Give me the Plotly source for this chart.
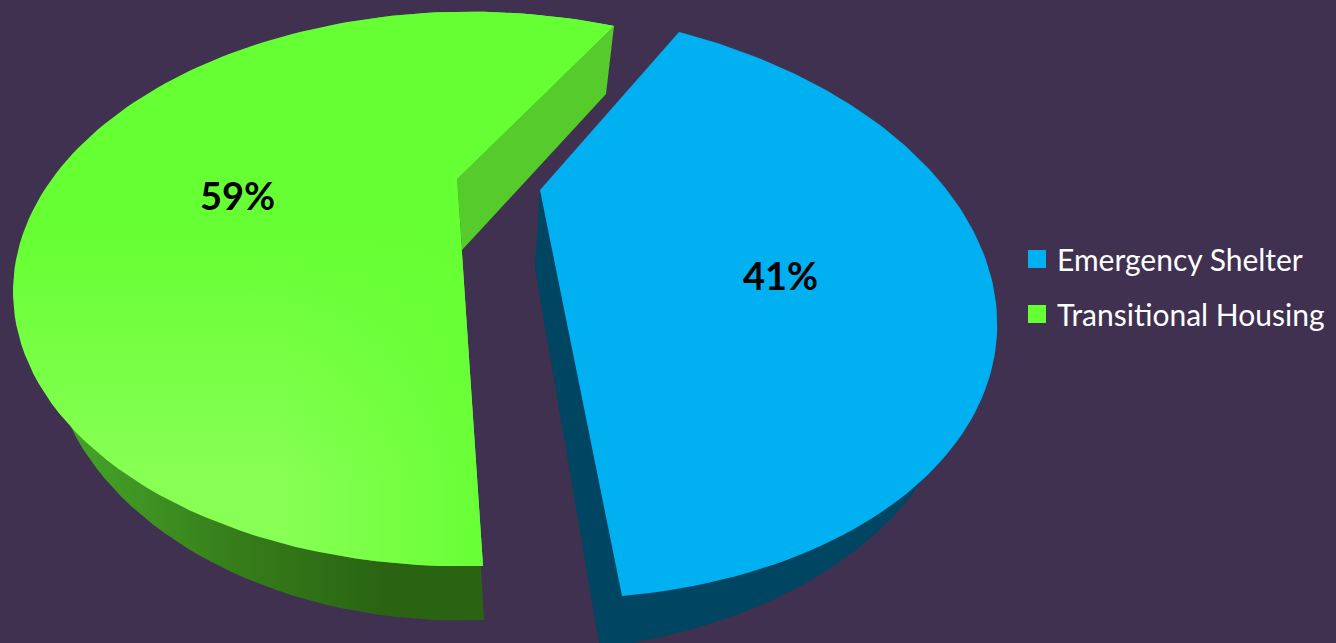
import numpy as np
import plotly.graph_objects as go

categories = ["Emergency Shelter", "Transitional Housing"]
values = [41, 59]
top_colors = ["#00B0F0", "#66FF33"]
BG = "#403151"

# Calibration of the tilted "3D" view: slice apex, arc start, arc middle, arc end (pixels)
view_top = {
    "Emergency Shelter": [(540, 190), (679, 32), (984.6, 256.2), (622, 596)],
    "Transitional Housing": [(457, 179), (614, 26), (95, 132), (483, 566)],
}
view_bottom = {
    "Emergency Shelter": [(535, 267), (672, 110), (947.5, 318.1), (600, 648)],
    "Transitional Housing": [(462, 250), (606, 94), (117, 186), (484, 620)],
}
label_pos = {"Emergency Shelter": (780, 275), "Transitional Housing": (237, 195)}


def homography(src, dst):
    A, b = [], []
    for (u, v), (x, y) in zip(src, dst):
        A.append([u, v, 1, 0, 0, 0, -u * x, -v * x]); b.append(x)
        A.append([0, 0, 0, u, v, 1, -u * y, -v * y]); b.append(y)
    return np.append(np.linalg.solve(np.array(A, float), np.array(b, float)), 1).reshape(3, 3)


def arc(value, anchors, n=120):
    span = 2 * np.pi * value / 100
    src = [(0, 0)] + [(np.cos(a), np.sin(a)) for a in (0, span / 2, span)]
    H = homography(src, anchors)
    t = np.linspace(0, span, n)
    p = H @ np.vstack([np.cos(t), np.sin(t), np.ones_like(t)])
    return p[0] / p[2], p[1] / p[2]


def poly(xs, ys, **kw):
    return go.Scatter(x=xs, y=ys, mode="lines", fill="toself", line=dict(width=0),
                      hoverinfo="skip", showlegend=False, **kw)


fig = go.Figure()

# Blue slice
name = categories[0]
xt, yt = arc(values[0], view_top[name])
xb, yb = arc(values[0], view_bottom[name])
at, ab = view_top[name][0], view_bottom[name][0]
dark_blue = "#004561"
fig.add_trace(poly([ab[0], *xb, ab[0]], [ab[1], *yb, ab[1]], fillcolor=dark_blue))
fig.add_trace(poly([at[0], xt[-1], xb[-1], ab[0]], [at[1], yt[-1], yb[-1], ab[1]], fillcolor=dark_blue))
fig.add_trace(poly([at[0], *xt, at[0]], [at[1], *yt, at[1]], fillcolor=top_colors[0]))

# Green slice
name = categories[1]
xt, yt = arc(values[1], view_top[name])
xb, yb = arc(values[1], view_bottom[name])
at, ab = view_top[name][0], view_bottom[name][0]
wall_grad = dict(type="horizontal", start=90, stop=480,
                 colorscale=[[0, "#43A027"], [0.35, "#377F1B"], [0.75, "#2A6412"], [1, "#2A6412"]])
fig.add_trace(poly([ab[0], *xb, ab[0]], [ab[1], *yb, ab[1]], fillgradient=wall_grad))
fig.add_trace(poly([at[0], xt[0], xb[0], ab[0]], [at[1], yt[0], yb[0], ab[1]], fillcolor="#55CC2B"))
fx, fy = [at[0], *xt, at[0]], [at[1], *yt, at[1]]
fig.add_trace(poly(fx, fy, fillgradient=dict(type="vertical", start=230, stop=480,
                   colorscale=[[0, "#66FF33"], [1, "#88FF55"]])))
fig.add_trace(poly(fx, fy, fillgradient=dict(type="horizontal", start=280, stop=500,
                   colorscale=[[0, "rgba(102,255,51,0)"], [1, "rgba(102,255,51,1)"]])))

# Legend entries
for c, col in zip(categories, top_colors):
    fig.add_trace(go.Scatter(x=[None], y=[None], mode="markers", name=c, legendgroup=c,
                             marker=dict(symbol="square", size=16, color=col, line=dict(width=2, color=col))))

annotations = [dict(x=label_pos[c][0], y=label_pos[c][1], text=f"<b>{v}%</b>", showarrow=False,
                    font=dict(family="Lato", size=38, color="#000000"), xref="x", yref="y")
               for c, v in zip(categories, values)]

fig.update_layout(
    width=1336, height=643, margin=dict(l=0, r=0, t=0, b=0),
    paper_bgcolor=BG, plot_bgcolor=BG,
    xaxis=dict(range=[0, 1336], visible=False, fixedrange=True),
    yaxis=dict(range=[643, 0], visible=False, fixedrange=True),
    annotations=annotations,
    legend=dict(x=1017 / 1336, y=1 - 233 / 643, xanchor="left", yanchor="top",
                bgcolor="rgba(0,0,0,0)", font=dict(family="Lato", size=30, color="#FFFFFF"),
                tracegroupgap=13, traceorder="grouped", itemwidth=30),
)
fig.write_html("out.html", config={"displayModeBar": False},
               post_script="document.body.style.margin='0';document.body.style.overflow='hidden';")
